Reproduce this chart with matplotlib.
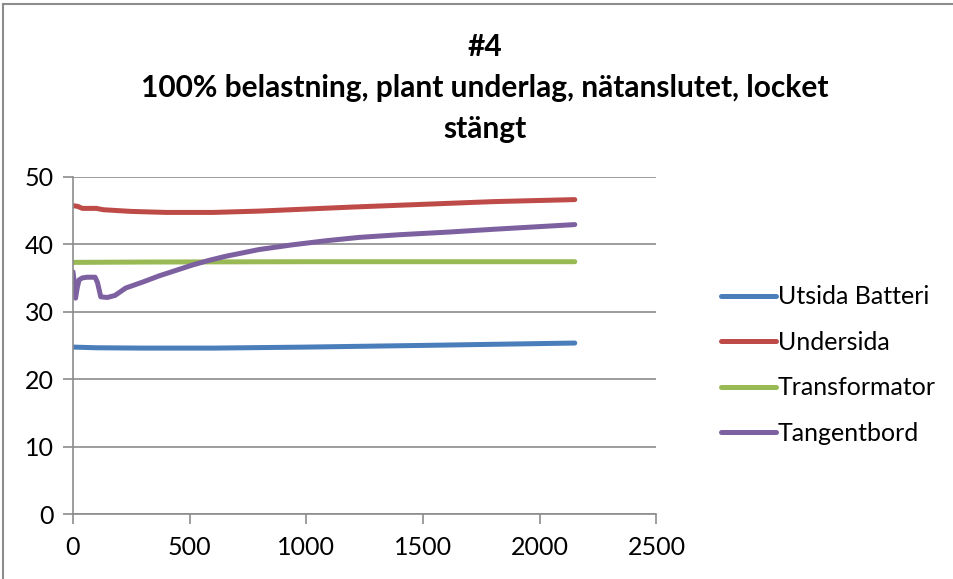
import matplotlib.pyplot as plt
from matplotlib.lines import Line2D

plt.rcParams['font.family'] = ['Lato', 'DejaVu Sans']

# measured temperatures over time (s)
bat_t = [0, 100, 300, 600, 1000, 1500, 2150]
bat_v = [24.75, 24.65, 24.6, 24.6, 24.75, 25.0, 25.35]

under_t = [0, 20, 40, 100, 130, 250, 400, 600, 800, 1000, 1200, 1500, 1800, 2150]
under_v = [45.7, 45.6, 45.3, 45.3, 45.1, 44.85, 44.7, 44.7, 44.9, 45.2, 45.5, 45.9, 46.3, 46.6]

trafo_t = [0, 300, 1000, 2150]
trafo_v = [37.3, 37.35, 37.4, 37.4]

tang_t = [0, 5, 11, 18, 26, 40, 60, 95, 105, 119, 147, 180, 226, 300, 369, 440, 511, 583,
          654, 797, 940, 1083, 1226, 1400, 1614, 1800, 2000, 2150]
tang_v = [35.9, 34.5, 32.0, 33.5, 34.7, 35.0, 35.1, 35.1, 34.3, 32.2, 32.1, 32.4, 33.5,
          34.4, 35.3, 36.1, 36.9, 37.6, 38.2, 39.2, 39.9, 40.5, 41.0, 41.4, 41.8, 42.2,
          42.6, 42.9]

labels = ['Utsida Batteri', 'Undersida', 'Transformator', 'Tangentbord']
colors = ['#4A7EBB', '#BE4B48', '#98B954', '#7D60A0']

fig = plt.figure(figsize=(9.54, 5.79), dpi=100)
ax = fig.add_axes([0.0765, 0.112, 0.6116, 0.5829])

series = [(bat_t, bat_v), (under_t, under_v), (trafo_t, trafo_v), (tang_t, tang_v)]
for (t, v), lab, c in zip(series, labels, colors):
    ax.plot(t, v, color=c, lw=3.6, label=lab, solid_capstyle='round', solid_joinstyle='round')

ax.set_xlim(0, 2500)
ax.set_ylim(0, 50)
ax.set_xticks(range(0, 2501, 500))
ax.set_yticks(range(0, 51, 10))
ax.grid(axis='y', color='#8c8c8c', lw=1.2)
ax.set_axisbelow(True)
for s in ['top', 'right']:
    ax.spines[s].set_visible(False)
for s in ['left', 'bottom']:
    ax.spines[s].set_color('#8c8c8c')
    ax.spines[s].set_linewidth(1.2)
ax.tick_params(axis='both', colors='#8c8c8c', length=7, width=1.2, labelsize=18,
               labelcolor='black')
ax.tick_params(axis='x', pad=9)
ax.tick_params(axis='y', pad=7)

fig.text(485 / 954, 1 - 88 / 579,
         '#4\n100% belastning, plant underlag, nätanslutet, locket\nstängt',
         ha='center', va='center', fontsize=21.5, fontweight='bold', linespacing=1.55)

ax.legend(loc='center left', bbox_to_anchor=(709 / 954, 1 - 365 / 579),
          bbox_transform=fig.transFigure, frameon=False, fontsize=18,
          handlelength=2.2, handletextpad=0.05, labelspacing=0.9, borderpad=0)

# outer chart border
fig.add_artist(Line2D([3.5 / 954, 3.5 / 954], [0, 1 - 3.5 / 579], color='#8c8c8c', lw=1.5,
                      transform=fig.transFigure))
fig.add_artist(Line2D([3.5 / 954, 1], [1 - 3.5 / 579, 1 - 3.5 / 579], color='#8c8c8c', lw=1.5,
                      transform=fig.transFigure))

fig.savefig('out.png', dpi=100)
